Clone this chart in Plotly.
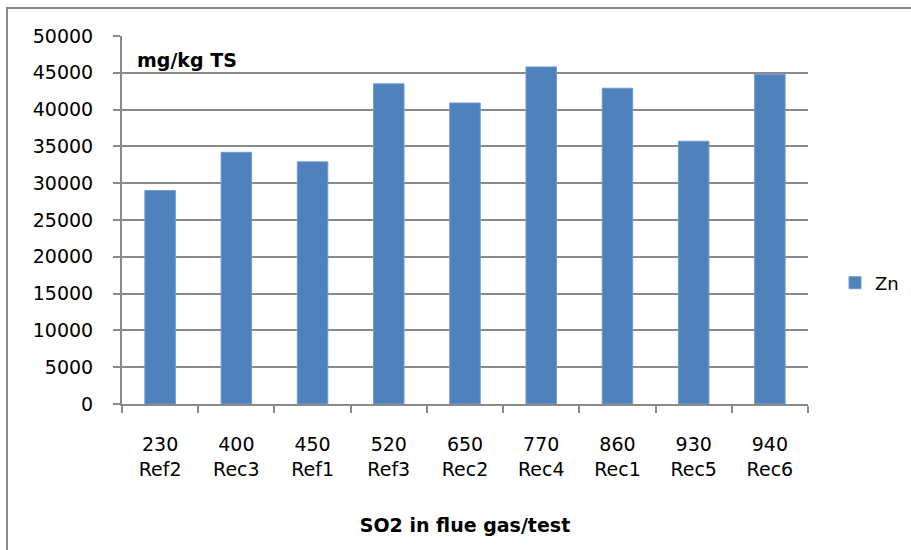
import plotly.graph_objects as go

so2 = ["230", "400", "450", "520", "650", "770", "860", "930", "940"]
tests = ["Ref2", "Rec3", "Ref1", "Ref3", "Rec2", "Rec4", "Rec1", "Rec5", "Rec6"]
zn = [29000, 34200, 32900, 43500, 40900, 45800, 42900, 35700, 44800]
y_ticks = list(range(0, 50001, 5000))

W, H = 911, 550
L, R, T, B = 122, W - 808, 36, H - 404
pw, ph = W - L - R, H - T - B

cats = [f"{a}<br>{b}" for a, b in zip(so2, tests)]

fig = go.Figure()
fig.add_trace(go.Bar(
    x=cats, y=zn, name="Zn",
    marker=dict(color="#4F81BD", line=dict(color="#6f9bd1", width=1)),
))

font_family = "DejaVu Sans"
grid = "#8a8a8a"
fs = 19

fig.update_layout(
    width=W, height=H,
    margin=dict(l=L, r=R, t=T, b=B, autoexpand=False),
    paper_bgcolor="white", plot_bgcolor="white",
    bargap=0.6,
    font=dict(family=font_family, size=fs, color="#000000"),
    showlegend=True,
    legend=dict(x=(835 - L) / pw, y=1 - (283 - T) / ph, xanchor="left", yanchor="middle",
                font=dict(size=18), itemwidth=30, bgcolor="rgba(0,0,0,0)"),
    xaxis=dict(
        showline=True, linecolor=grid, linewidth=2,
        ticks="outside", ticklen=7, tickcolor=grid, tickwidth=2,
        tickson="boundaries", showgrid=False,
        title=dict(text="<b>SO2 in flue gas/test</b>", font=dict(size=fs), standoff=40),
        tickfont=dict(size=fs), ticklabelstandoff=22,
    ),
    yaxis=dict(
        range=[0, 50000], tickvals=y_ticks, ticktext=[str(v) for v in y_ticks],
        showline=True, linecolor=grid, linewidth=2,
        ticks="outside", ticklen=7, tickcolor=grid, tickwidth=2,
        showgrid=True, gridcolor=grid, gridwidth=2, zeroline=False,
        tickfont=dict(size=fs), ticklabelstandoff=16,
    ),
)

fig.add_annotation(
    text="<b>mg/kg TS</b>", xref="paper", yref="paper",
    x=(135 - L) / pw, y=1 - (60 - T) / ph, xanchor="left", yanchor="middle",
    showarrow=False, font=dict(size=fs, family=font_family),
)

# outer chart frame
fig.add_shape(
    type="rect", xref="paper", yref="paper",
    x0=(7 - L) / pw, x1=(W + 20 - L) / pw,
    y0=-(B + 20) / ph, y1=1 + (T - 8) / ph,
    line=dict(color="#8a8a8a", width=2), fillcolor="rgba(0,0,0,0)", layer="below",
)

fig.write_html("out.html")
